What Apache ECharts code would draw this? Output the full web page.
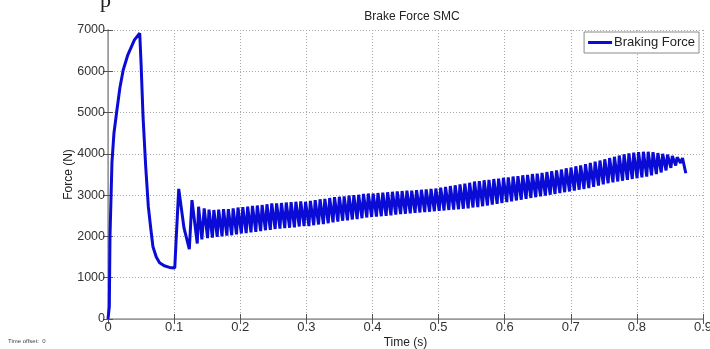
<!DOCTYPE html>
<html lang="en">
<head>
    <meta charset="UTF-8">
    <title>Brake Force SMC</title>
    <style>
        html,
        body {
            margin: 0;
            padding: 0;
            background: #fff;
        }

        #chart {
            width: 710px;
            height: 349px;
        }
    </style>
</head>
<body>
    <div id="chart"></div>
    <script src="https://cdn.jsdelivr.net/npm/echarts@6/dist/echarts.min.js"></script>
    <script>
        // transient part [time (s), force (N)]
        const transient = [
            [0, 0], [0.002, 300], [0.003, 2000], [0.006, 3800], [0.009, 4500], [0.013, 5000],
            [0.018, 5600], [0.023, 6030], [0.03, 6400], [0.04, 6760], [0.048, 6920],
            [0.05, 6200], [0.053, 4900], [0.057, 3700], [0.061, 2720], [0.065, 2150],
            [0.068, 1750], [0.073, 1500], [0.078, 1360], [0.085, 1290], [0.093, 1250],
            [0.101, 1235], [0.103, 1900], [0.107, 3150], [0.115, 2200], [0.123, 1690],
            [0.127, 2880], [0.135, 1830], [0.137, 2720], [0.142, 1930]
        ];

        // chattering part: one peak and one trough per cycle
        const chatterStart = 0.1455;
        const chatterPeriod = 0.0073;
        const troughPhase = 0.7;
        const peaks = [
            2680, 2650, 2640, 2650, 2660, 2660, 2680,
            2700, 2710, 2720, 2740, 2750, 2760, 2780,
            2800, 2800, 2810, 2820, 2830, 2840, 2850,
            2840, 2860, 2880, 2900, 2910, 2930, 2950,
            2960, 2970, 2990, 3000, 3010, 3030, 3040,
            3040, 3050, 3060, 3070, 3080, 3090, 3100,
            3110, 3110, 3120, 3130, 3140, 3150, 3160,
            3180, 3200, 3220, 3240, 3260, 3280, 3300,
            3330, 3340, 3360, 3370, 3390, 3400, 3420,
            3430, 3450, 3460, 3480, 3490, 3510, 3520,
            3540, 3560, 3580, 3600, 3620, 3650, 3670,
            3700, 3720, 3750, 3780, 3810, 3840, 3870,
            3900, 3930, 3960, 3990, 4010, 4030, 4040,
            4050, 4050, 4040, 4020, 4000, 3980, 3950,
            3920
        ];
        const troughs = [
            1960, 1970, 1990, 2000, 2020, 2030, 2050,
            2070, 2080, 2100, 2110, 2130, 2150, 2160,
            2180, 2190, 2200, 2210, 2220, 2240, 2250,
            2250, 2270, 2290, 2300, 2320, 2340, 2360,
            2380, 2390, 2410, 2420, 2440, 2460, 2470,
            2480, 2490, 2500, 2510, 2530, 2540, 2550,
            2560, 2570, 2580, 2590, 2600, 2610, 2620,
            2630, 2640, 2650, 2660, 2670, 2680, 2700,
            2710, 2730, 2750, 2770, 2790, 2810, 2830,
            2850, 2870, 2890, 2910, 2930, 2950, 2970,
            2990, 3010, 3030, 3050, 3070, 3090, 3110,
            3130, 3150, 3170, 3200, 3230, 3260, 3290,
            3310, 3330, 3350, 3370, 3390, 3410, 3430,
            3450, 3480, 3510, 3550, 3600, 3660, 3720,
            3780
        ];
        // final spike and drop at the end of the run
        const tail = [[0.869, 3900], [0.874, 3530]];

        const xTicks = ['0', '0.1', '0.2', '0.3', '0.4', '0.5', '0.6', '0.7', '0.8', '0.9'];

        const series = transient.slice();
        peaks.forEach((p, i) => {
            const t = chatterStart + i * chatterPeriod;
            series.push([t, p]);
            series.push([t + chatterPeriod * troughPhase, troughs[i]]);
        });
        tail.forEach(d => series.push(d));

        const font = 'Liberation Sans, Arial, sans-serif';
        const chart = echarts.init(document.getElementById('chart'));

        const gridAxis = {
            axisLine: { show: true, lineStyle: { color: '#9a9a9a', width: 1 } },
            axisTick: { show: true, inside: true, length: 5, lineStyle: { color: '#555' } },
            splitLine: { show: false },
            axisLabel: { show: false }
        };

        chart.setOption({
            animation: false,
            backgroundColor: '#fff',
            title: {
                text: 'Brake Force SMC',
                left: 407,
                top: 6,
                textAlign: 'center',
                textStyle: { fontFamily: font, fontSize: 12, fontWeight: 'normal', color: '#222' }
            },
            legend: {
                data: ['Braking Force'],
                right: 11,
                top: 32,
                icon: 'rect',
                itemWidth: 24,
                itemHeight: 3,
                itemGap: 4,
                padding: [4, 4, 4, 4],
                backgroundColor: '#fff',
                borderColor: '#8a8a8a',
                borderWidth: 1,
                textStyle: { fontFamily: font, fontSize: 13, color: '#222', padding: [0, 0, 0, -3] }
            },
            grid: { left: 108, right: 7, top: 30, bottom: 30, outerBoundsMode: 'none', containLabel: false },
            xAxis: [{
                type: 'value',
                min: 0,
                max: 0.9,
                interval: 0.1,
                name: 'Time (s)',
                nameLocation: 'middle',
                nameGap: 18,
                nameMoveOverlap: false,
                nameTextStyle: { fontFamily: font, fontSize: 12, color: '#222' },
                axisLine: { show: true, lineStyle: { color: '#9a9a9a', width: 1.5 } },
                axisTick: { show: true, inside: true, length: 5, lineStyle: { color: '#555' } },
                axisLabel: {
                    fontFamily: font, fontSize: 13, color: '#333', margin: 2,
                    formatter: (v) => xTicks[Math.round(v * 10)]
                },
                splitLine: { show: true, lineStyle: { type: [1, 2], color: '#a8a8a8' } }
            }, Object.assign({
                type: 'value', position: 'top', min: 0, max: 0.9, interval: 0.1
            }, gridAxis)],
            yAxis: [{
                type: 'value',
                min: 0,
                max: 7000,
                interval: 1000,
                name: 'Force (N)',
                nameLocation: 'middle',
                nameGap: 33,
                nameMoveOverlap: false,
                nameTextStyle: { fontFamily: font, fontSize: 12, color: '#222' },
                axisLine: { show: true, lineStyle: { color: '#9a9a9a', width: 1.5 } },
                axisTick: { show: true, inside: true, length: 5, lineStyle: { color: '#555' } },
                axisLabel: {
                    fontFamily: font, fontSize: 12.5, color: '#333', margin: 3,
                    formatter: (v) => String(v)
                },
                splitLine: { show: true, lineStyle: { type: [1, 2], color: '#a8a8a8' } }
            }, Object.assign({
                type: 'value', position: 'right', min: 0, max: 7000, interval: 1000
            }, gridAxis)],
            series: [{
                name: 'Braking Force',
                type: 'line',
                data: series,
                showSymbol: false,
                lineStyle: { color: '#0b0bd6', width: 3 },
                itemStyle: { color: '#0b0bd6' }
            }],
            graphic: [
                {
                    type: 'text', left: 8, top: 338,
                    style: { text: 'Time offset:  0', font: '6px ' + font, fill: '#444' }
                },
                {
                    type: 'text', left: 100, top: -10,
                    style: { text: 'p', font: '22px Liberation Serif, serif', fill: '#222' }
                }
            ]
        });
    </script>
</body>
</html>
